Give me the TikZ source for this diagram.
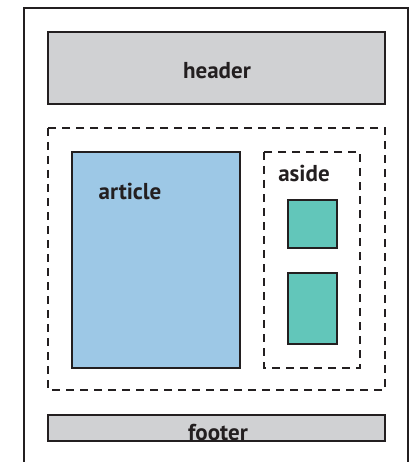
\documentclass[tikz,border=0pt]{standalone}
\usepackage{fontspec}
\setmainfont{PT Sans}
\usepackage{xcolor}
\usepackage{tikz}
\definecolor{ink}{HTML}{231F20}
\definecolor{headgray}{HTML}{D0D1D3}
\definecolor{artblue}{HTML}{9DC8E6}
\definecolor{asidegreen}{HTML}{62C6BA}
\tikzset{
  solidbox/.style={draw=ink, line width=1.6pt},
  dashbox/.style={draw=ink, line width=1.6pt, dash pattern=on 8pt off 6pt},
  tag/.style={font=\bfseries\fontsize{23}{25}\selectfont, text=ink, inner sep=0pt}
}

\begin{document}
\begin{tikzpicture}[x=1pt,y=-1pt]
                \useasboundingbox (0,0) rectangle (418,462);
                \draw[solidbox] (24,462) -- (24,8) -- (408,8) -- (408,462);
                % header
                \draw[solidbox, fill=headgray] (48,32) rectangle (385,104);
                \node[tag] (header) at (217,71) {header};
                % main area
                \draw[dashbox] (48,128) rectangle (385,390);
                \draw[solidbox, fill=artblue] (72,152) rectangle (240,368);
                \node[tag] (article) at (130,191) {article};
                \draw[dashbox] (264,152) rectangle (360,368);
                \node[tag] (aside) at (304,173) {aside};
                \draw[solidbox, fill=asidegreen] (288,200) rectangle (337,248);
                \draw[solidbox, fill=asidegreen] (288,273) rectangle (337,344);
                % footer
                \draw[solidbox, fill=headgray] (48,415) rectangle (385,441);
                \node[tag, anchor=base] (footer) at (218,440) {footer};
            \end{tikzpicture}
\end{document}
